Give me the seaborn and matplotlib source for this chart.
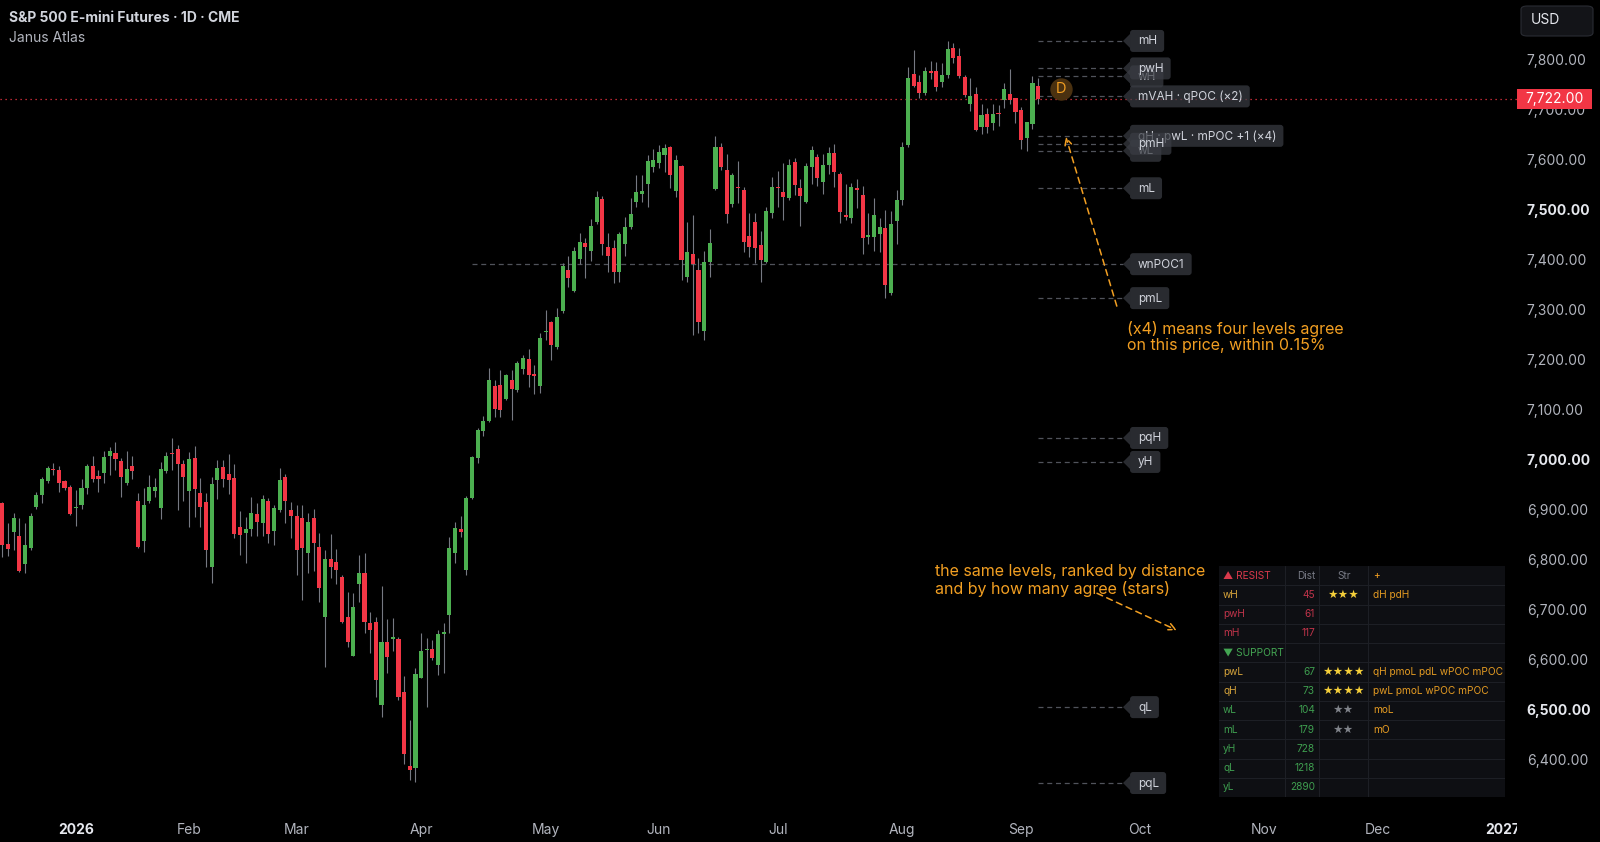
import numpy as np
import pandas as pd
import matplotlib
matplotlib.use("Agg")
import matplotlib.pyplot as plt
import seaborn as sns
from matplotlib.patches import FancyBboxPatch, Polygon, Rectangle
from matplotlib.transforms import IdentityTransform, Bbox, TransformedBbox

# daily bars (late Dec 2025 -> early Sep 2026)
opens = [6912, 6830, 6854, 6847, 6790, 6822, 6904, 6929, 6957, 6979, 6979, 6957, 6944, 6902, 6909, 6943, 6987, 6967, 6972, 7006,
         7012, 6997, 6953, 6986, 6917, 6837, 6917, 6937, 6902, 6976, 7010, 7020, 6991, 6937, 7002, 6932, 6915, 6784, 6959, 6984,
         6970, 6963, 6864, 6852, 6861, 6890, 6873, 6917, 6857, 6899, 6964, 6899, 6887, 6882, 6812, 6882, 6824, 6684, 6800, 6795,
         6765, 6684, 6606, 6751, 6773, 6672, 6675, 6508, 6635, 6640, 6640, 6535, 6386, 6383, 6562, 6618, 6621, 6588, 6650, 6688,
         6813, 6860, 6779, 6922, 7002, 7056, 7076, 7147, 7149, 7122, 7160, 7140, 7182, 7202, 7171, 7147, 7255, 7276, 7226, 7298,
         7379, 7338, 7401, 7434, 7418, 7476, 7521, 7425, 7423, 7376, 7431, 7465, 7516, 7532, 7552, 7585, 7593, 7610, 7626, 7538,
         7588, 7366, 7411, 7379, 7258, 7396, 7541, 7625, 7580, 7512, 7543, 7540, 7447, 7475, 7430, 7396, 7493, 7543, 7536, 7523,
         7596, 7543, 7516, 7586, 7605, 7556, 7590, 7614, 7572, 7486, 7483, 7544, 7530, 7446, 7446, 7451, 7463, 7334, 7478, 7520,
         7630, 7772, 7755, 7733, 7778, 7777, 7755, 7769, 7823, 7808, 7765, 7712, 7732, 7666, 7692, 7673, 7691, 7720, 7732, 7723,
         7700, 7643, 7672, 7748]
highs = [6915, 6872, 6892, 6882, 6872, 6893, 6935, 6965, 6987, 6992, 6986, 6959, 6949, 6939, 6960, 6990, 7006, 6979, 7016, 7024,
         7034, 7002, 7017, 7007, 6933, 6942, 6969, 6962, 6994, 7014, 7042, 7029, 6999, 7014, 7026, 6962, 6933, 6964, 6999, 6999,
         7011, 6991, 6897, 6884, 6924, 6912, 6929, 6922, 6909, 6982, 6971, 6915, 6909, 6909, 6892, 6900, 6852, 6819, 6851, 6820,
         6769, 6735, 6732, 6809, 6812, 6695, 6685, 6747, 6680, 6683, 6645, 6566, 6479, 6582, 6653, 6642, 6638, 6658, 6673, 6845,
         6875, 6887, 6927, 7007, 7062, 7086, 7184, 7159, 7180, 7171, 7179, 7198, 7209, 7222, 7189, 7253, 7299, 7278, 7303, 7394,
         7407, 7425, 7454, 7443, 7481, 7538, 7528, 7453, 7440, 7456, 7486, 7523, 7570, 7570, 7610, 7622, 7630, 7632, 7628, 7610,
         7590, 7476, 7489, 7403, 7418, 7461, 7648, 7634, 7612, 7573, 7598, 7546, 7494, 7494, 7458, 7505, 7566, 7578, 7593, 7601,
         7603, 7561, 7593, 7628, 7612, 7612, 7625, 7632, 7576, 7552, 7553, 7561, 7548, 7494, 7523, 7483, 7500, 7498, 7540, 7636,
         7785, 7819, 7770, 7785, 7797, 7795, 7793, 7837, 7833, 7823, 7770, 7763, 7745, 7712, 7703, 7712, 7710, 7754, 7781, 7723,
         7705, 7676, 7767, 7763]
lows = [6805, 6807, 6819, 6775, 6772, 6819, 6900, 6913, 6952, 6969, 6935, 6939, 6889, 6867, 6900, 6931, 6955, 6935, 6953, 6969,
        6979, 6924, 6949, 6960, 6822, 6815, 6912, 6925, 6880, 6972, 6979, 6899, 6917, 6865, 6885, 6865, 6785, 6752, 6920, 6945,
        6931, 6842, 6809, 6792, 6847, 6847, 6847, 6832, 6829, 6895, 6872, 6842, 6769, 6718, 6773, 6777, 6715, 6585, 6762, 6751,
        6672, 6625, 6606, 6715, 6653, 6612, 6525, 6485, 6573, 6617, 6518, 6391, 6359, 6355, 6562, 6505, 6598, 6568, 6573, 6652,
        6792, 6845, 6769, 6920, 6992, 7046, 7074, 7084, 7084, 7120, 7079, 7136, 7171, 7146, 7131, 7134, 7240, 7199, 7222, 7293,
        7346, 7336, 7391, 7363, 7398, 7471, 7409, 7376, 7354, 7356, 7407, 7461, 7506, 7516, 7506, 7575, 7583, 7576, 7543, 7525,
        7359, 7356, 7249, 7253, 7239, 7366, 7540, 7580, 7473, 7505, 7513, 7416, 7406, 7393, 7356, 7393, 7483, 7506, 7480, 7520,
        7530, 7467, 7514, 7552, 7548, 7532, 7572, 7546, 7473, 7479, 7473, 7503, 7411, 7431, 7418, 7416, 7323, 7329, 7431, 7510,
        7626, 7745, 7723, 7730, 7761, 7738, 7746, 7763, 7793, 7763, 7726, 7698, 7658, 7652, 7654, 7660, 7668, 7703, 7712, 7673,
        7621, 7618, 7661, 7712]
closes = [6829, 6821, 6882, 6777, 6829, 6887, 6929, 6960, 6982, 6977, 6953, 6942, 6891, 6904, 6942, 6987, 6961, 6960, 7004, 7016,
          7000, 6965, 6980, 6976, 6825, 6909, 6944, 6944, 6980, 7007, 7008, 6991, 6964, 7001, 6940, 6905, 6819, 6951, 6982, 6960,
          6959, 6850, 6849, 6860, 6893, 6875, 6921, 6850, 6902, 6959, 6917, 6887, 6819, 6823, 6875, 6833, 6742, 6800, 6785, 6779,
          6675, 6635, 6704, 6773, 6675, 6658, 6558, 6635, 6605, 6645, 6524, 6411, 6379, 6570, 6617, 6621, 6602, 6650, 6655, 6823,
          6862, 6855, 6922, 7004, 7059, 7076, 7160, 7100, 7099, 7169, 7142, 7194, 7204, 7169, 7168, 7243, 7258, 7229, 7286, 7387,
          7363, 7417, 7436, 7426, 7467, 7525, 7432, 7407, 7376, 7451, 7465, 7491, 7536, 7538, 7598, 7600, 7616, 7623, 7570, 7600,
          7399, 7415, 7391, 7276, 7395, 7434, 7625, 7586, 7492, 7570, 7541, 7436, 7426, 7423, 7399, 7498, 7546, 7541, 7526, 7590,
          7550, 7528, 7588, 7620, 7563, 7590, 7614, 7576, 7496, 7484, 7545, 7540, 7443, 7450, 7490, 7465, 7349, 7471, 7520, 7626,
          7763, 7748, 7733, 7778, 7773, 7746, 7770, 7822, 7803, 7767, 7730, 7728, 7660, 7690, 7666, 7692, 7689, 7741, 7720, 7696,
          7640, 7676, 7753, 7722]

# time axis: bar index of each month label
month_pos = [13, 33, 52, 74, 96, 116, 137, 159, 180, 201, 223, 243, 265]
month_labels = ["2026", "Feb", "Mar", "Apr", "May", "Jun", "Jul", "Aug", "Sep", "Oct", "Nov", "Dec", "2027"]
price_ticks = list(range(6400, 7801, 100))

# key levels (drawn in this order, later ones on top)
level_names = ["mH", "wH", "pwH", "mVAH · qPOC (×2)", "wL", "qH · pwL · mPOC +1 (×4)", "pmH",
               "mL", "wnPOC1", "pmL", "pqH", "yH", "qL", "pqL"]
level_prices = [7838, 7767, 7783, 7727, 7618, 7648, 7632, 7543, 7391, 7323, 7043, 6995, 6504, 6352]
level_from = [183, 183, 183, 183, 183, 183, 183, 183, 83, 183, 183, 183, 183, 183]
tag_x = 198

# ranking table
tbl_names = ["wH", "pwH", "mH", "pwL", "qH", "wL", "mL", "yH", "qL", "yL"]
tbl_side = ["R", "R", "R", "S", "S", "S", "S", "S", "S", "S"]
tbl_dist = [45, 61, 117, 67, 73, 104, 179, 728, 1218, 2890]
tbl_stars = [3, 0, 0, 4, 4, 2, 2, 0, 0, 0]
tbl_extra = ["dH pdH", "", "", "qH pmoL pdL wPOC mPOC", "pwL pmoL wPOC mPOC", "moL", "mO", "", "", ""]

UP, DOWN, WICK = "#4caf50", "#f23645", "#767982"
TAG, TAGTXT = "#3a3d44", "#d1d4dc"
ORANGE = "#f29f22"
GREY = "#b2b5be"

sns.set_theme(style="dark", rc={"axes.facecolor": "black", "figure.facecolor": "black",
                                "axes.grid": False, "axes.edgecolor": "black"})
plt.rcParams["font.family"] = ["Inter", "DejaVu Sans"]

df = pd.DataFrame({"open": opens, "high": highs, "low": lows, "close": closes})
df["up"] = df["close"] >= df["open"]

fig = plt.figure(figsize=(16, 8.42), dpi=100)
ax = fig.add_axes([0, 1 - 812 / 842, 1517 / 1600, 812 / 842])
ax.set_xlim(-0.4, 267.6)
ax.set_ylim(6294, 7920)
for s in ax.spines.values():
    s.set_visible(False)

# candles
ax.vlines(df.index, df["low"], df["high"], color=WICK, lw=0.8, zorder=3)
body = (df["close"] - df["open"]).where((df["close"] - df["open"]).abs() > 2, 2.5)
ax.bar(df.index, body, bottom=df["open"], width=0.72,
       color=np.where(df["up"], UP, DOWN), linewidth=0, zorder=4)

# last price line
ax.axhline(closes[-1], color=DOWN, lw=0.9, ls=(0, (1, 3)), zorder=2)

ident = IdentityTransform()

# axes
ax.yaxis.tick_right()
ax.set_yticks(price_ticks)
ax.set_yticklabels([f"{v:,.2f}" for v in price_ticks])
ax.tick_params(axis="y", length=0, pad=7, labelsize=10, labelcolor=GREY)
for lab, v in zip(ax.get_yticklabels(), price_ticks):
    if v % 500 == 0:
        lab.set_fontweight("bold")
        lab.set_color("#e6e8ee")
ax.set_xticks(month_pos)
ax.set_xticklabels(month_labels)
ax.tick_params(axis="x", length=0, pad=8, labelsize=10, labelcolor=GREY)
time_clip = TransformedBbox(Bbox([[0, 0], [1517, 842]]), ident)
for lab in ax.get_xticklabels():
    if lab.get_text().startswith("20"):
        lab.set_fontweight("bold")
        lab.set_color("#e6e8ee")
    lab.set_clip_box(time_clip)
    lab.set_clip_on(True)

# level tags
renderer = fig.canvas.get_renderer()
for k, (name, price, x0) in enumerate(zip(level_names, level_prices, level_from)):
    ax.plot([x0, tag_x], [price, price], color="#50535b", lw=0.9, ls=(0, (4, 3)), zorder=2)
    tx, ty = ax.transData.transform((tag_x, price))
    z = 10 + 3 * k
    t = ax.text(tx + 15, ty - 0.5, name, transform=ident, ha="left", va="center",
                fontsize=8.5, color=TAGTXT, zorder=z + 2)
    bb = t.get_window_extent(renderer)
    ax.add_patch(FancyBboxPatch((tx + 7, ty - 11), bb.x1 - tx, 22,
                                boxstyle="round,pad=0,rounding_size=3", transform=ident,
                                fc=TAG, ec="none", alpha=0.72, zorder=z))
    ax.add_patch(Polygon([(tx, ty), (tx + 7, ty + 7), (tx + 7, ty - 7)], closed=True,
                         transform=ident, fc=TAG, ec="none", alpha=0.72, zorder=z))

# D marker
ax.scatter([187], [7741], s=260, color="#4a3110", zorder=6, linewidths=0)
ax.text(187, 7741, "D", ha="center", va="center", fontsize=10.5, color=ORANGE, zorder=7)

# annotations
ax.annotate("", xy=(187.9, 7646), xytext=(196.9, 7307),
            arrowprops=dict(arrowstyle="->", color=ORANGE, lw=1.1, ls=(0, (4, 3)),
                            shrinkA=0, shrinkB=0, mutation_scale=12), zorder=8)
ax.text(198.7, 7278, "(x4) means four levels agree\non this price, within 0.15%",
        ha="left", va="top", fontsize=11.5, color=ORANGE, linespacing=1.15, zorder=8)
ax.annotate("", xy=(207.5, 6658), xytext=(193.4, 6732),
            arrowprops=dict(arrowstyle="->", color=ORANGE, lw=1.1, ls=(0, (4, 3)),
                            shrinkA=0, shrinkB=0, mutation_scale=12), zorder=8)
ax.text(164.8, 6790, "the same levels, ranked by distance\nand by how many agree (stars)",
        ha="left", va="top", fontsize=11.5, color=ORANGE, linespacing=1.15, zorder=9)

# title block
fig.text(9 / 1600, 1 - 18 / 842, "S&P 500 E-mini Futures · 1D · CME", fontsize=10,
         fontweight="bold", color="#d1d4dc", va="center")
fig.text(9 / 1600, 1 - 38 / 842, "Janus Atlas", fontsize=10, color=GREY, va="center")

# USD box and last price tag on the price scale
fig.add_artist(FancyBboxPatch((1521 / 1600, 1 - 36 / 842), 72 / 1600, 30 / 842,
                              boxstyle="round,pad=0,rounding_size=0.004", transform=fig.transFigure,
                              fc="#131418", ec="#2a2c33", lw=0.8, zorder=5))
fig.text(1531 / 1600, 1 - 20 / 842, "USD", fontsize=10, color="#e6e8ee", va="center", zorder=6)
py = ax.transData.transform((0, closes[-1]))[1]
fig.add_artist(Rectangle((1517, py - 10), 75, 20, transform=ident, fc=DOWN, ec="none", zorder=5))
fig.text(1554.5, py, f"{closes[-1]:,.2f}", transform=ident, ha="center", va="center",
         fontsize=10, color="white", zorder=6)

# ranking table
tb = fig.add_axes([1219 / 1600, 1 - 797 / 842, 286 / 1600, 231 / 842])
tb.set_xlim(0, 286)
tb.set_ylim(231, 0)
tb.set_facecolor("#0e0f13")
tb.set_xticks([])
tb.set_yticks([])
for s in tb.spines.values():
    s.set_visible(False)
rh = 231 / 12
for i in range(1, 12):
    tb.axhline(i * rh, color="#1d1f25", lw=0.8)
for xv in [66, 100, 149]:
    tb.plot([xv, xv], [0, 231], color="#1d1f25", lw=0.8)
fs = 7.3
cy = rh / 2
tb.text(4, cy, "▲ RESIST", fontsize=fs, color="#d9394b", va="center")
tb.text(87, cy, "Dist", fontsize=fs, color="#787b86", va="center", ha="center")
tb.text(125, cy, "Str", fontsize=fs, color="#787b86", va="center", ha="center")
tb.text(154, cy, "+", fontsize=fs, color=ORANGE, va="center")
row = 1
for name, side, dist, st, extra in zip(tbl_names, tbl_side, tbl_dist, tbl_stars, tbl_extra):
    if side == "S" and tbl_side[tbl_names.index(name) - 1] == "R":
        tb.add_patch(Rectangle((0, row * rh + 0.5), 99, rh - 1, fc="#0e0f13", ec="none"))
        tb.text(4, (row + 0.5) * rh, "▼ SUPPORT", fontsize=fs, color="#43a552", va="center")
        row += 1
    cy = (row + 0.5) * rh
    base = "#c0344a" if side == "R" else "#3e9d4f"
    tb.text(4, cy, name, fontsize=fs, color="#d6a33a" if st >= 3 else base, va="center")
    tb.text(96, cy, str(dist), fontsize=fs, color=base, va="center", ha="right")
    if st:
        tb.text(124, cy, "★" * st, fontsize=fs, color="#f5cf3a" if st >= 3 else "#80838a",
                va="center", ha="center")
    if extra:
        tb.text(154, cy, extra, fontsize=fs, color="#e39a22", va="center")
    row += 1

fig.savefig("out.png", dpi=100, facecolor="black")
